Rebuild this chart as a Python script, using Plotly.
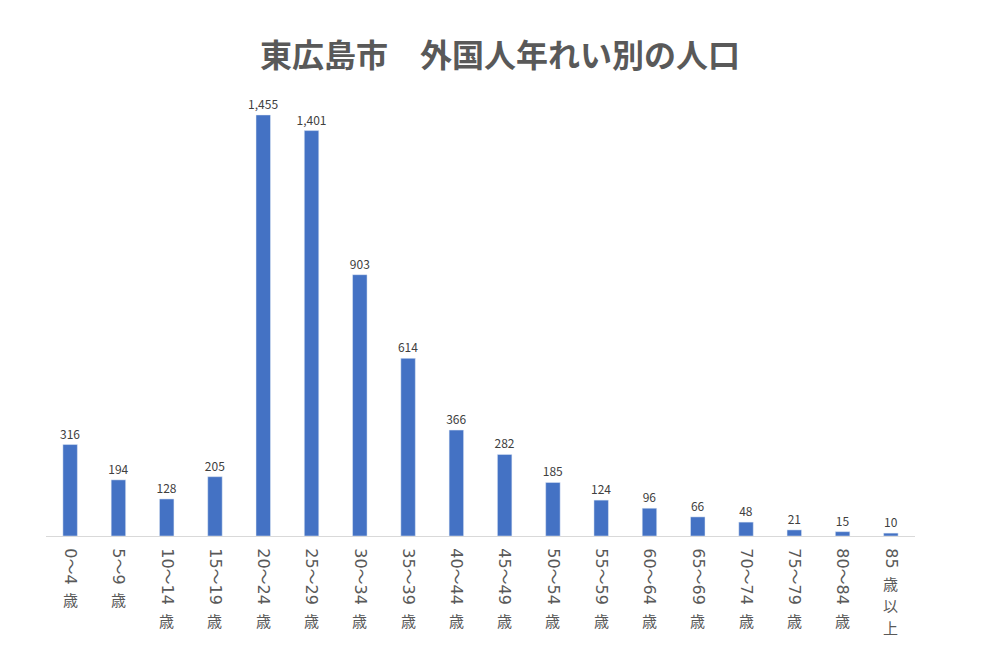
import plotly.graph_objects as go

categories = ["0～4歳", "5～9歳", "10～14歳", "15～19歳", "20～24歳", "25～29歳",
              "30～34歳", "35～39歳", "40～44歳", "45～49歳", "50～54歳", "55～59歳",
              "60～64歳", "65～69歳", "70～74歳", "75～79歳", "80～84歳", "85歳以上"]
values = [316, 194, 128, 205, 1455, 1401, 903, 614, 366, 282, 185, 124, 96, 66, 48, 21, 15, 10]
title_text = "東広島市　外国人年れい別の人口"

CJK = "Noto Sans CJK JP"
NUMFONT = "DejaVu Sans, Noto Sans CJK JP"
TICK_SIZE = 16
KANJI_SIZE = 15
KANJI_PITCH = 22
GRAY = "#595959"
LABEL_START = 14  # px from axis line to start of tick label

# split each label into the rotated numeric part and the upright kanji part
num_parts, kanji_parts = [], []
for c in categories:
    i = c.index("歳")
    num_parts.append(c[:i])
    kanji_parts.append(c[i:])

def text_len(s, size):
    w = 0
    for ch in s:
        w += size * (1.0 if ord(ch) > 0x2000 else 0.636)
    return w

fig = go.Figure()
fig.add_trace(go.Bar(
    x=categories, y=values,
    marker_color="#4472C4",
    texttemplate="%{y:,}", textposition="outside",
    constraintext="none",
    textfont=dict(size=12, color="#404040", family=CJK),
    cliponaxis=False,
))

annotations = []
for c, n, k in zip(categories, num_parts, kanji_parts):
    base = LABEL_START + text_len(n, TICK_SIZE) + 2
    for j, ch in enumerate(k):
        annotations.append(dict(
            x=c, y=0, xref="x", yref="y",
            text=ch, showarrow=False,
            xanchor="center", yanchor="top",
            yshift=-(base + j * KANJI_PITCH),
            font=dict(size=KANJI_SIZE, color=GRAY, family=CJK),
            borderpad=0,
        ))

fig.update_layout(
    width=1000, height=666,
    paper_bgcolor="white", plot_bgcolor="white",
    margin=dict(l=46, r=85, t=73, b=130),
    bargap=0.7,
    showlegend=False,
    title=dict(text="<b>" + title_text + "</b>", x=0.5, xanchor="center",
               y=0.916, yanchor="middle",
               font=dict(size=32, color=GRAY, family=CJK)),
    xaxis=dict(
        tickmode="array", tickvals=categories, ticktext=num_parts,
        tickangle=90, ticks="", showgrid=False,
        ticklabelstandoff=8,
        showline=True, linecolor="#D9D9D9", linewidth=1,
        tickfont=dict(size=TICK_SIZE, color=GRAY, family=NUMFONT),
        fixedrange=True,
    ),
    yaxis=dict(range=[0, 1600], visible=False, fixedrange=True),
    annotations=annotations,
    font=dict(family=CJK),
)

fig.write_html("out.html")
